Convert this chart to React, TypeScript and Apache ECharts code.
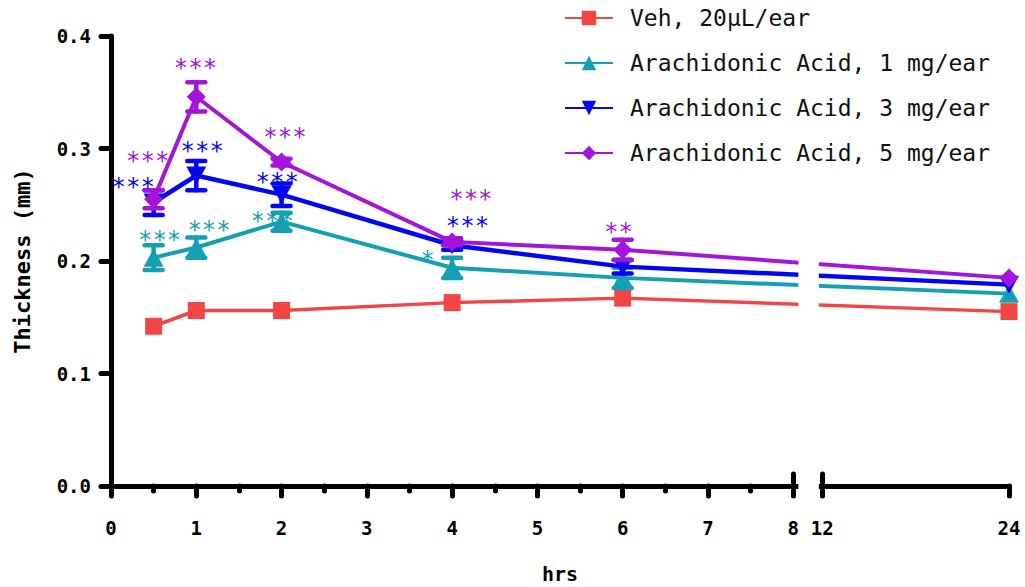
import React, { useEffect, useRef } from "react";
import * as echarts from "echarts";

// ---- data ----
const hours = [0.5, 1, 2, 4, 6, 24];
const seriesNames = [
  "Veh, 20μL/ear",
  "Arachidonic Acid, 1 mg/ear",
  "Arachidonic Acid, 3 mg/ear",
  "Arachidonic Acid, 5 mg/ear",
];
const vehicle = [0.142, 0.156, 0.156, 0.163, 0.167, 0.155];
const aa1 = [0.203, 0.212, 0.235, 0.194, 0.185, 0.171];
const aa3 = [0.252, 0.276, 0.259, 0.214, 0.195, 0.179];
const aa5 = [0.255, 0.346, 0.288, 0.217, 0.210, 0.185];
const vehicleSem = [0, 0, 0, 0, 0, 0];
const aa1Sem = [0.011, 0.009, 0.008, 0.009, 0.009, 0];
const aa3Sem = [0.011, 0.013, 0.010, 0.004, 0.006, 0];
const aa5Sem = [0.008, 0.013, 0.003, 0.003, 0.009, 0];

// significance annotations: [hour, thickness, label]
const starsAA1: [number, number, string][] = [
  [0.57, 0.223, "***"],
  [1.15, 0.232, "***"],
  [1.89, 0.240, "***"],
  [3.71, 0.205, "*"],
];
const starsAA3: [number, number, string][] = [
  [0.26, 0.27, "***"],
  [1.07, 0.302, "***"],
  [1.95, 0.275, "***"],
  [4.18, 0.236, "***"],
];
const starsAA5: [number, number, string][] = [
  [0.43, 0.293, "***"],
  [0.99, 0.376, "***"],
  [2.04, 0.315, "***"],
  [4.22, 0.26, "***"],
  [5.95, 0.23, "**"],
];

const xMajorHours = [0, 1, 2, 3, 4, 5, 6, 7, 8, 12, 24];
const xMinorHours = [0.5, 1.5, 2.5, 3.5, 4.5, 5.5, 6.5, 7.5];
const breakHours = [8, 12];

// ---- broken x axis scale (8 → 12 break) ----
const BREAK_START = 8;
const BREAK_END = 12;
const RESUME_POS = 8.34;
const END_POS = 10.53;
const T = (h: number) =>
  h <= BREAK_START ? h : RESUME_POS + ((h - BREAK_END) * (END_POS - RESUME_POS)) / (24 - BREAK_END);
const Tinv = (p: number) =>
  p <= BREAK_START + 0.01 ? p : BREAK_END + ((p - RESUME_POS) * (24 - BREAK_END)) / (END_POS - RESUME_POS);

const colors = ["#F44545", "#159FB3", "#0505F2", "#A514DB"];
const MONO = "DejaVu Sans Mono";

export default function App() {
  const ref = useRef<HTMLDivElement>(null);
  useEffect(() => {
    if (!ref.current) return;
    const chart = echarts.init(ref.current, undefined, { renderer: "svg" });
    const values = [vehicle, aa1, aa3, aa5];
    const sems = [vehicleSem, aa1Sem, aa3Sem, aa5Sem];
    const symbols = ["rect", "triangle", "triangle", "diamond"];
    const symbolSizes: any[] = [17, [20, 18], [20, 18], 19];
    const rotates = [0, 0, 180, 0];
    const widths = [3.5, 4, 4.5, 4];

    const lineSeries = values.map((vals, i) => ({
      name: seriesNames[i],
      type: "line",
      data: hours.map((h, k) => [T(h), vals[k]]),
      symbol: symbols[i],
      symbolSize: symbolSizes[i],
      symbolRotate: rotates[i],
      showAllSymbol: true,
      lineStyle: { color: colors[i], width: widths[i] },
      itemStyle: { color: colors[i] },
      z: 3 + i,
      clip: false,
    }));

    const errSeries = values.map((vals, i) => ({
      type: "custom",
      data: hours.map((h, k) => [T(h), vals[k], sems[i][k]]),
      z: 3 + i,
      clip: false,
      silent: true,
      renderItem: (params: any, api: any) => {
        const x = api.value(0);
        const y = api.value(1);
        const e = api.value(2);
        if (!e) return null;
        const top = api.coord([x, y + e]);
        const bot = api.coord([x, y - e]);
        const hw = 9;
        const st = { stroke: colors[i], lineWidth: 4.5, lineCap: "round" };
        return {
          type: "group",
          children: [
            { type: "line", shape: { x1: top[0], y1: top[1], x2: bot[0], y2: bot[1] }, style: st },
            { type: "line", shape: { x1: top[0] - hw, y1: top[1], x2: top[0] + hw, y2: top[1] }, style: st },
            { type: "line", shape: { x1: bot[0] - hw, y1: bot[1], x2: bot[0] + hw, y2: bot[1] }, style: st },
          ],
        };
      },
    }));

    const starGroups = [starsAA1, starsAA3, starsAA5];
    const starSeries = starGroups.map((grp, gi) => ({
      type: "custom",
      data: grp.map((s) => [T(s[0]), s[1], s[2]]),
      z: 20,
      clip: false,
      silent: true,
      renderItem: (params: any, api: any) => {
        const p = api.coord([api.value(0), api.value(1)]);
        return {
          type: "text",
          x: p[0],
          y: p[1] + 5,
          style: {
            text: grp[params.dataIndex][2],
            fill: colors[gi + 1],
            font: `24px "${MONO}"`,
            lineHeight: 18,
            align: "center",
            verticalAlign: "middle",
          },
        };
      },
    }));

    const gapSeries = {
      type: "custom",
      data: [[T(BREAK_START), T(BREAK_END)]],
      z: 30,
      clip: false,
      silent: true,
      renderItem: (params: any, api: any) => {
        const a = api.coord([api.value(0) + 0.06, 0.25]);
        const b = api.coord([api.value(1) - 0.04, 0]);
        return {
          type: "rect",
          shape: { x: a[0], y: a[1], width: b[0] - a[0], height: b[1] - a[1] + 5 },
          style: { fill: "#ffffff" },
        };
      },
    };

    const baseX = {
      type: "value",
      min: 0,
      max: END_POS,
      splitLine: { show: false },
      position: "bottom",
    };

    chart.setOption({
      animation: false,
      backgroundColor: "#ffffff",
      grid: {
        left: 111,
        right: 16,
        top: 36,
        bottom: 101,
        containLabel: false,
        outerBoundsMode: "none",
      },
      legend: {
        orient: "vertical",
        left: 559,
        top: 1,
        z: 50,
        itemWidth: 48,
        itemHeight: 18,
        itemGap: 21,
        data: seriesNames,
        textStyle: {
          fontFamily: MONO,
          fontSize: 23,
          lineHeight: 24,
          color: "#111",
          padding: [0, 0, 0, 12],
        },
      },
      xAxis: [
        {
          ...baseX,
          name: "hrs",
          nameLocation: "middle",
          nameGap: 78,
          nameTextStyle: {
            fontFamily: MONO,
            fontWeight: "bold",
            fontSize: 20,
            lineHeight: 20,
            color: "#000",
          },
          axisLine: { show: true, lineStyle: { color: "#000", width: 5 } },
          axisTick: {
            show: true,
            customValues: xMajorHours.map(T),
            length: 10,
            lineStyle: { color: "#000", width: 5, cap: "round" },
          },
          axisLabel: {
            show: true,
            customValues: xMajorHours.map(T),
            margin: 32,
            fontFamily: MONO,
            fontWeight: "bold",
            fontSize: 19,
            color: "#000",
            formatter: (v: number) => String(Math.round(Tinv(v))),
          },
        },
        {
          ...baseX,
          axisLine: { show: false },
          axisTick: {
            show: true,
            customValues: xMinorHours.map(T),
            length: 5,
            lineStyle: { color: "#000", width: 5, cap: "round" },
          },
          axisLabel: { show: false },
        },
        {
          ...baseX,
          axisLine: { show: false },
          axisTick: {
            show: true,
            inside: true,
            customValues: breakHours.map(T),
            length: 12,
            lineStyle: { color: "#000", width: 5, cap: "round" },
          },
          axisLabel: { show: false },
        },
      ],
      yAxis: {
        type: "value",
        min: 0,
        max: 0.4,
        interval: 0.1,
        name: "Thickness (mm)",
        nameLocation: "middle",
        nameGap: 78,
        nameTextStyle: { fontFamily: MONO, fontWeight: "bold", fontSize: 22, color: "#000" },
        splitLine: { show: false },
        axisLine: { show: true, lineStyle: { color: "#000", width: 5 } },
        axisTick: { show: true, length: 10, lineStyle: { color: "#000", width: 5, cap: "round" } },
        axisLabel: {
          margin: 20,
          fontFamily: MONO,
          fontWeight: "bold",
          fontSize: 19,
          color: "#000",
          formatter: (v: number) => v.toFixed(1),
        },
      },
      series: [...errSeries, ...lineSeries, ...starSeries, gapSeries],
    });
    return () => chart.dispose();
  }, []);
  return (
    <div
      ref={ref}
      style={{ position: "fixed", left: 0, top: 0, width: 1025, height: 587, background: "#fff" }}
    />
  );
}
